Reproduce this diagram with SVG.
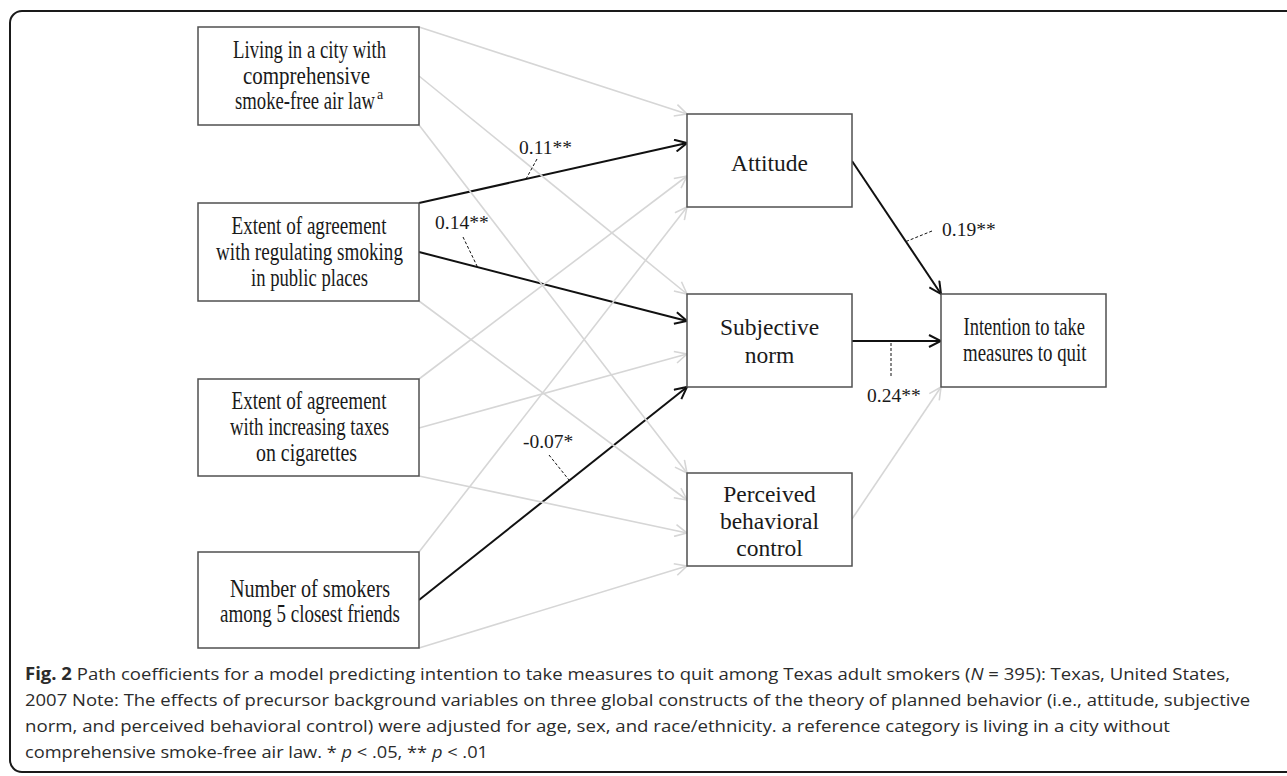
<svg xmlns="http://www.w3.org/2000/svg" width="1287" height="776" viewBox="0 0 1287 776">
<style>
.box{fill:#fff;stroke:#505050;stroke-width:1.5}
.lt{font-family:"Liberation Serif","Times New Roman",serif;font-size:24.5px;fill:#1a1a1a}
.mt{font-family:"Liberation Serif","Times New Roman",serif;font-size:23.5px;fill:#1a1a1a;text-anchor:middle}
.lab{font-family:"Liberation Serif","Times New Roman",serif;font-size:19.5px;fill:#1a1a1a}
.g{stroke:#d6d6d6;stroke-width:1.6;fill:none;marker-end:url(#ag)}
.k{stroke:#111;stroke-width:2;fill:none;marker-end:url(#ak)}
.d{stroke:#111;stroke-width:1;stroke-dasharray:3 2;fill:none}
.cap{font-family:"Open Sans","Noto Sans","Liberation Sans",sans-serif;font-size:17px;fill:#2b2b2b}
</style>
<defs>
<marker id="ak" viewBox="0 0 14 14" refX="13" refY="7" markerWidth="14" markerHeight="14" markerUnits="userSpaceOnUse" orient="auto">
<path d="M1,1 L13,7 L1,13" fill="none" stroke="#111" stroke-width="2"/>
</marker>
<marker id="ag" viewBox="0 0 14 14" refX="13" refY="7" markerWidth="14" markerHeight="14" markerUnits="userSpaceOnUse" orient="auto">
<path d="M1,1 L13,7 L1,13" fill="none" stroke="#d6d6d6" stroke-width="1.6"/>
</marker>
</defs>
<rect width="1287" height="776" fill="#fff"/>
<path d="M1292,11 H22 A12,12 0 0 0 10,23 V760 A12,12 0 0 0 22,772 H1292" fill="none" stroke="#1a1a1a" stroke-width="2"/>

<g id="connectors">
<line class="k" x1="419" y1="203" x2="687" y2="143"/>
<line class="k" x1="419" y1="252" x2="687" y2="321"/>
<line class="k" x1="419" y1="600" x2="687" y2="387"/>
<line class="k" x1="852" y1="161" x2="941" y2="294"/>
<line class="k" x1="852" y1="341" x2="941" y2="341"/>
<line class="g" x1="419" y1="27" x2="687" y2="114"/>
<line class="g" x1="419" y1="76" x2="687" y2="294"/>
<line class="g" x1="419" y1="125" x2="687" y2="473"/>
<line class="g" x1="419" y1="301" x2="687" y2="500"/>
<line class="g" x1="419" y1="379" x2="687" y2="176"/>
<line class="g" x1="419" y1="428" x2="687" y2="354"/>
<line class="g" x1="419" y1="476" x2="687" y2="533"/>
<line class="g" x1="419" y1="552" x2="687" y2="207"/>
<line class="g" x1="419" y1="648" x2="687" y2="566"/>
<line class="g" x1="852" y1="519" x2="941" y2="387"/>
<line class="d" x1="537" y1="159" x2="526" y2="179"/>
<line class="d" x1="463" y1="237" x2="477.5" y2="267"/>
<line class="d" x1="549" y1="455" x2="569" y2="480"/>
<line class="d" x1="932" y1="231" x2="906" y2="241.5"/>
<line class="d" x1="891" y1="343" x2="891" y2="378"/>
<text class="lab" x="519" y="153.5">0.11**</text>
<text class="lab" x="435" y="229">0.14**</text>
<text class="lab" x="523" y="448">-0.07*</text>
<text class="lab" x="942" y="235.5">0.19**</text>
<text class="lab" x="867" y="402">0.24**</text>
</g>

<g id="n1">
<rect class="box" x="198" y="27" width="221" height="98"/>
<text class="lt" x="233" y="58" textLength="153" lengthAdjust="spacingAndGlyphs">Living in a city with</text>
<text class="lt" x="243" y="84" textLength="127" lengthAdjust="spacingAndGlyphs">comprehensive</text>
<text class="lt" x="235" y="109" textLength="140" lengthAdjust="spacingAndGlyphs">smoke-free air law</text>
<text class="lt" x="377" y="99" style="font-size:14px">a</text>
</g>
<g id="n2">
<rect class="box" x="198" y="203" width="221" height="98"/>
<text class="lt" x="231.5" y="234" textLength="155" lengthAdjust="spacingAndGlyphs">Extent of agreement</text>
<text class="lt" x="216" y="260" textLength="187" lengthAdjust="spacingAndGlyphs">with regulating smoking</text>
<text class="lt" x="251" y="286" textLength="117" lengthAdjust="spacingAndGlyphs">in public places</text>
</g>
<g id="n3">
<rect class="box" x="198" y="379" width="221" height="97"/>
<text class="lt" x="231.5" y="409" textLength="155" lengthAdjust="spacingAndGlyphs">Extent of agreement</text>
<text class="lt" x="230" y="435" textLength="159" lengthAdjust="spacingAndGlyphs">with increasing taxes</text>
<text class="lt" x="256" y="461" textLength="101" lengthAdjust="spacingAndGlyphs">on cigarettes</text>
</g>
<g id="n4">
<rect class="box" x="198" y="552" width="221" height="96"/>
<text class="lt" x="230" y="597" textLength="160" lengthAdjust="spacingAndGlyphs">Number of smokers</text>
<text class="lt" x="220" y="622" textLength="180" lengthAdjust="spacingAndGlyphs">among 5 closest friends</text>
</g>
<g id="attitude">
<rect class="box" x="687" y="114" width="165" height="93"/>
<text class="mt" x="769.5" y="170.5">Attitude</text>
</g>
<g id="subjective">
<rect class="box" x="687" y="294" width="165" height="93"/>
<text class="mt" x="769.5" y="335">Subjective</text>
<text class="mt" x="769.5" y="362.5">norm</text>
</g>
<g id="pbc">
<rect class="box" x="687" y="473" width="165" height="93"/>
<text class="mt" x="769.5" y="501.5">Perceived</text>
<text class="mt" x="769.5" y="529">behavioral</text>
<text class="mt" x="769.5" y="556">control</text>
</g>
<g id="intention">
<rect class="box" x="941" y="294" width="165" height="93"/>
<text class="lt" x="963.5" y="335" textLength="121.5" lengthAdjust="spacingAndGlyphs">Intention to take</text>
<text class="lt" x="963" y="361" textLength="123.5" lengthAdjust="spacingAndGlyphs">measures to quit</text>
</g>

<g id="caption">
<text class="cap" x="25" y="680" textLength="1205" lengthAdjust="spacingAndGlyphs"><tspan font-weight="bold">Fig. 2</tspan> Path coefficients for a model predicting intention to take measures to quit among Texas adult smokers (<tspan font-style="italic">N</tspan> = 395): Texas, United States,</text>
<text class="cap" x="25" y="706" textLength="1225" lengthAdjust="spacingAndGlyphs">2007 Note: The effects of precursor background variables on three global constructs of the theory of planned behavior (i.e., attitude, subjective</text>
<text class="cap" x="25" y="732" textLength="1145" lengthAdjust="spacingAndGlyphs">norm, and perceived behavioral control) were adjusted for age, sex, and race/ethnicity. a reference category is living in a city without</text>
<text class="cap" x="25" y="758" textLength="463" lengthAdjust="spacingAndGlyphs">comprehensive smoke-free air law. * <tspan font-style="italic">p</tspan> &lt; .05, ** <tspan font-style="italic">p</tspan> &lt; .01</text>
</g>
</svg>
